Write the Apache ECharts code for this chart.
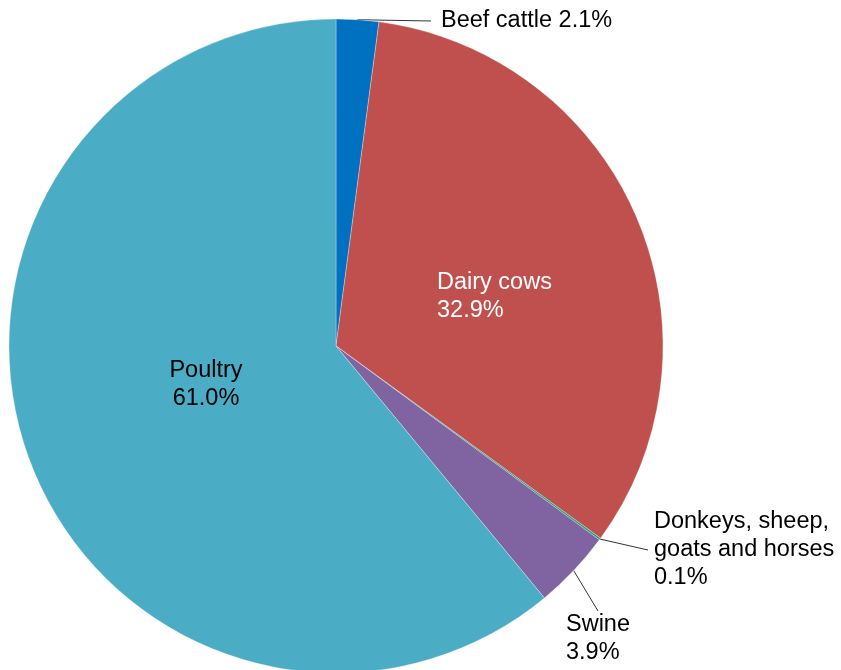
<!DOCTYPE html>
<html>
<head>
<meta charset="utf-8">
<script src="https://cdn.jsdelivr.net/npm/echarts@6/dist/echarts.min.js"></script>
<style>html,body{margin:0;padding:0;background:#fff}#c{width:841px;height:670px}</style>
</head>
<body>
<div id="c"></div>
<script>
const categories = ['Beef cattle', 'Dairy cows', 'Donkeys, sheep,\ngoats and horses', 'Swine', 'Poultry'];
const values = [2.1, 32.9, 0.1, 3.9, 61.0];
const colors = ['#0070c0', '#c0504d', '#12a474', '#8064a2', '#4bacc6'];

// label placement (text anchor, alignment) per slice
const labelPos = [
  {x: 431, y: 21, align: 'left', fmt: 'one', color: '#000', inside: false, len: 4},
  {x: 437, y: 297, align: 'left', fmt: 'two', color: '#fff', inside: true, len: 0},
  {x: 648, y: 550, align: 'left', fmt: 'two', color: '#000', inside: false, len: 0},
  {x: 566, y: 639, align: 'left', fmt: 'two', color: '#000', inside: false, len: 0},
  {x: 206, y: 385, align: 'center', fmt: 'two', color: '#000', inside: true, len: 0}
];

const chart = echarts.init(document.getElementById('c'), null, {renderer: 'canvas'});
const data = categories.map((n, i) => ({
  name: n,
  value: values[i],
  itemStyle: {color: colors[i]},
  label: {
    color: labelPos[i].color,
    align: labelPos[i].align,
    padding: (labelPos[i].inside || i === 3) ? 0 : [0, 0, 0, i === 0 ? 10 : 6],
    formatter: p => labelPos[i].fmt === 'one' ? p.name + ' ' + p.value.toFixed(1) + '%' : p.name + '\n' + p.value.toFixed(1) + '%'
  },
  labelLine: {show: !labelPos[i].inside, length: labelPos[i].len, length2: 0}
}));

chart.setOption({
  animation: false,
  series: [{
    type: 'pie',
    center: [336, 346],
    radius: 327,
    startAngle: 90,
    clockwise: true,
    avoidLabelOverlap: false,
    itemStyle: {borderColor: 'rgba(255,255,255,0.6)', borderWidth: 0.5},
    label: {
      show: true,
      position: 'outside',
      fontFamily: 'Liberation Sans, Arial, sans-serif',
      fontSize: 23.5,
      lineHeight: 28,
      alignTo: 'none'
    },
    labelLine: {show: true, lineStyle: {color: '#333', width: 1}},
    labelLayout: function (params) {
      const lp = labelPos[params.dataIndex];
      return {x: lp.x, y: lp.y, align: lp.align, verticalAlign: 'middle'};
    },
    data: data
  }]
});
</script>
</body>
</html>
